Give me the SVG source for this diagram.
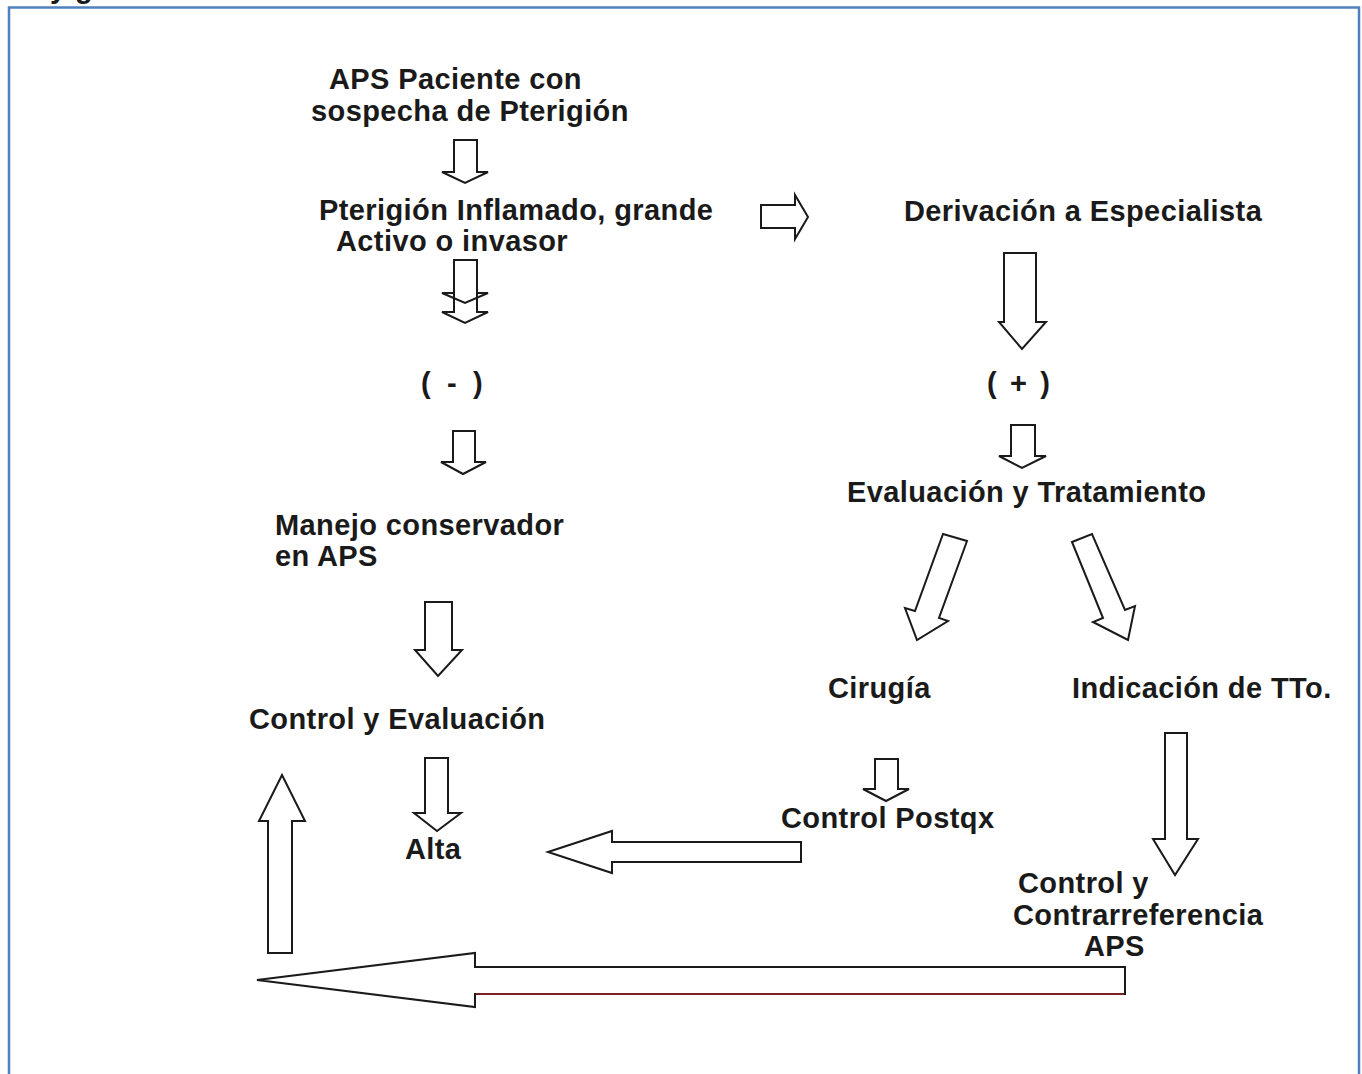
<svg xmlns="http://www.w3.org/2000/svg" width="1362" height="1074" viewBox="0 0 1362 1074">
<style>
.t{font-family:"Liberation Sans",Arial,sans-serif;font-weight:bold;font-size:29px;fill:#1a1a1a;letter-spacing:0.4px}
.a{fill:#fff;stroke:#1a1a1a;stroke-width:2;stroke-linejoin:miter}
.ol{fill:none;stroke:#1a1a1a;stroke-width:2}
</style>
<rect x="0" y="0" width="1362" height="1074" fill="#fff"/>
<text class="t" x="50" y="-2" font-size="26">y g</text>
<rect x="9" y="7.5" width="1350" height="1080" fill="none" stroke="#4f81bd" stroke-width="2.5"/>
<g id="connectors">
<polygon class="a" points="454,140 477,140 477,172 488,172 465,183 442,172 454,172"/>
<polygon class="a" points="454,260 477,260 477,312 488,312 465,323 442,312 454,312"/>
<polyline class="ol" points="454,293 442,293 465,303 488,293 477,293"/>
<polygon class="a" points="761,205 795,205 795,195 808,217 795,239 795,228 761,228"/>
<polygon class="a" points="1004,253 1036,253 1036,322 1046,322 1022,349 999,322 1004,322"/>
<polygon class="a" points="453,431 475,431 475,462 486,462 463,474 441,462 453,462"/>
<polygon class="a" points="1011,425 1035,425 1035,456 1046,456 1022,468 999,456 1011,456"/>
<polygon class="a" points="425,602 452,602 452,650 462,650 438,676 415,650 425,650"/>
<polygon class="a" points="943,534 967,541 939,618 948,621 917,640 905,608 915,611"/>
<polygon class="a" points="1072,542 1092,534 1125,610 1135,606 1128,640 1093,622 1103,618"/>
<polygon class="a" points="875,759 898,759 898,789 909,789 886,801 863,789 875,789"/>
<polygon class="a" points="1165,733 1187,733 1187,839 1198,839 1175,875 1153,839 1165,839"/>
<polygon class="a" points="425,758 448,758 448,813 461,813 437,831 414,813 425,813"/>
<polygon class="a" points="282,775 305,821 292,821 292,953 268,953 268,821 259,821"/>
<polygon class="a" points="548,852 612,831 612,842 801,842 801,862 612,862 612,873"/>
<polygon class="a" points="257,980 475,953 475,967 1125,967 1125,994 475,994 475,1007"/>
<line x1="476" y1="994" x2="1124" y2="994" stroke="#7a2222" stroke-width="2"/>
</g>
<g id="n1"><text class="t" x="329" y="89">APS Paciente con</text><text class="t" x="311" y="121">sospecha de Pterigión</text></g>
<g id="n2"><text class="t" x="319" y="220">Pterigión Inflamado, grande</text><text class="t" x="336" y="251">Activo o invasor</text></g>
<g id="n3"><text class="t" x="904" y="221">Derivación a Especialista</text></g>
<g id="n4"><text class="t" x="421" y="393" word-spacing="7.5">( - )</text></g>
<g id="n5"><text class="t" x="987" y="393" word-spacing="4.5">( + )</text></g>
<g id="n6"><text class="t" x="847" y="502">Evaluación y Tratamiento</text></g>
<g id="n7"><text class="t" x="275" y="535">Manejo conservador</text><text class="t" x="275" y="566">en APS</text></g>
<g id="n8"><text class="t" x="828" y="698">Cirugía</text></g>
<g id="n9"><text class="t" x="1072" y="698">Indicación de TTo.</text></g>
<g id="n10"><text class="t" x="249" y="729">Control y Evaluación</text></g>
<g id="n11"><text class="t" x="781" y="828">Control Postqx</text></g>
<g id="n12"><text class="t" x="405" y="859">Alta</text></g>
<g id="n13"><text class="t" x="1018" y="893">Control y</text><text class="t" x="1013" y="925">Contrarreferencia</text><text class="t" x="1084" y="956">APS</text></g>
</svg>
